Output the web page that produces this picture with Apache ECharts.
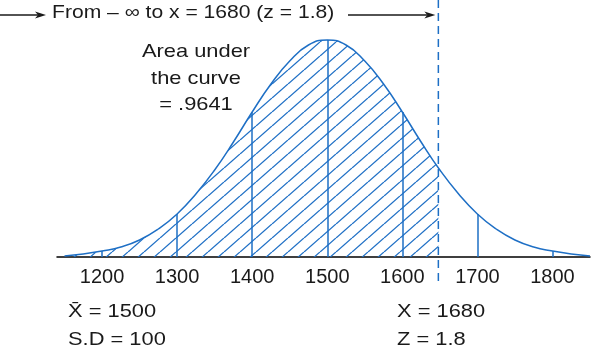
<!DOCTYPE html>
<html>
<head>
<meta charset="utf-8">
<script src="https://cdn.jsdelivr.net/npm/echarts@6/dist/echarts.min.js"></script>
<style>
    html, body { margin: 0; background: #fff; }
    #chart { width: 600px; height: 354px; }
</style>
</head>
<body>
<div id="chart"></div>
<script>
// curve heights (pixels above the base line), one every 25 units
const curveX = [1150, 1175, 1200, 1225, 1250, 1275, 1300, 1325, 1350, 1375, 1400, 1425, 1450, 1475, 1500,
    1525, 1550, 1575, 1600, 1625, 1650, 1675, 1700, 1725, 1750, 1775, 1800, 1825, 1850]
const curveY = [1, 3, 6, 10, 17, 28, 43, 63, 87, 115, 145, 173, 196, 212, 217,
    212, 196, 173, 145, 115, 87, 63, 43, 28, 17, 10, 6, 3, 1]
// axis labels and the vertical lines under the curve
const tickValues = [1200, 1300, 1400, 1500, 1600, 1700, 1800]
const tickHeights = [6, 43, 145, 217, 145, 43, 6]
// where the shading stops (the dashed line)
const cutX = 1648
const cutY = 90

const BLUE = '#1e6fc5'
const INK = '#1a1a1a'
const FONT = '"Liberation Sans", Arial, sans-serif'

// hatch pattern for the shaded area
function hatch() {
    const w = 16, h = 14
    const c = document.createElement('canvas')
    c.width = w
    c.height = h
    const ctx = c.getContext('2d')
    ctx.strokeStyle = BLUE
    ctx.lineWidth = 1.3
    for (let k = -1; k <= 1; k++) {
        ctx.beginPath()
        ctx.moveTo(k * w, h)
        ctx.lineTo(k * w + w, 0)
        ctx.stroke()
    }
    return c
}

const curvePts = curveX.map((x, i) => [x, curveY[i]])
const shadePts = curvePts.filter(p => p[0] < cutX).concat([[cutX, cutY]])

const chart = echarts.init(document.getElementById('chart'))
chart.setOption({
    animation: false,
    grid: { left: 57, right: 10, top: 0, bottom: 97 },
    xAxis: {
        type: 'value',
        min: 1140,
        max: 1850,
        splitLine: { show: false },
        axisTick: { show: false },
        axisLine: { lineStyle: { color: '#000', width: 1.5 } },
        axisLabel: {
            customValues: tickValues,
            formatter: v => String(v),
            fontSize: 20,
            fontFamily: FONT,
            color: INK,
            margin: 10
        }
    },
    yAxis: { type: 'value', min: 0, max: 257, show: false },
    series: [
        {
            type: 'line',
            data: shadePts,
            smooth: true,
            symbol: 'none',
            lineStyle: { width: 0 },
            areaStyle: { color: { image: hatch(), repeat: 'repeat' }, opacity: 1 },
            z: 1
        },
        {
            type: 'line',
            data: curvePts,
            smooth: true,
            symbol: 'none',
            clip: false,
            lineStyle: { color: BLUE, width: 1.5 },
            z: 3,
            markLine: {
                silent: true,
                symbol: ['none', 'none'],
                label: { show: false },
                lineStyle: { color: BLUE, width: 1.5, type: 'solid' },
                data: tickValues.map((v, i) => [{ coord: [v, 0] }, { coord: [v, tickHeights[i]] }])
            }
        }
    ]
})

// annotations, placed from the axis scale
const cutPx = chart.convertToPixel({ xAxisIndex: 0 }, cutX)

function label(text, x, y, align, sx) {
    return {
        type: 'text',
        x: x,
        y: y,
        scaleX: sx || 1.15,
        style: { text: text, font: '19px ' + FONT, fill: INK, align: align || 'left', verticalAlign: 'middle' }
    }
}

function arrow(x1, x2, y) {
    return [
        { type: 'line', shape: { x1: x1, y1: y, x2: x2 - 8, y2: y }, style: { stroke: INK, lineWidth: 1.3 } },
        { type: 'polygon', shape: { points: [[x2 - 11, y - 3.5], [x2, y], [x2 - 11, y + 3.5], [x2 - 8, y]] }, style: { fill: INK } }
    ]
}

chart.setOption({
    graphic: [
        {
            type: 'line',
            shape: { x1: cutPx, y1: 0, x2: cutPx, y2: 283 },
            style: { stroke: BLUE, lineWidth: 1.5, lineDash: [8, 5] }
        },
        ...arrow(0, 46, 15),
        ...arrow(348, cutPx - 3, 15),
        label('From \u2013 \u221e to x = 1680 (z = 1.8)', 52, 13, 'left', 1.11),
        label('Area under', 196, 52, 'center'),
        label('the curve', 196, 79, 'center'),
        label('= .9641', 196, 105, 'center'),
        label('X\u0304 = 1500', 68, 312),
        label('S.D = 100', 68, 340),
        label('X = 1680', 397, 312),
        label('Z = 1.8', 397, 340)
    ]
})
</script>
</body>
</html>
